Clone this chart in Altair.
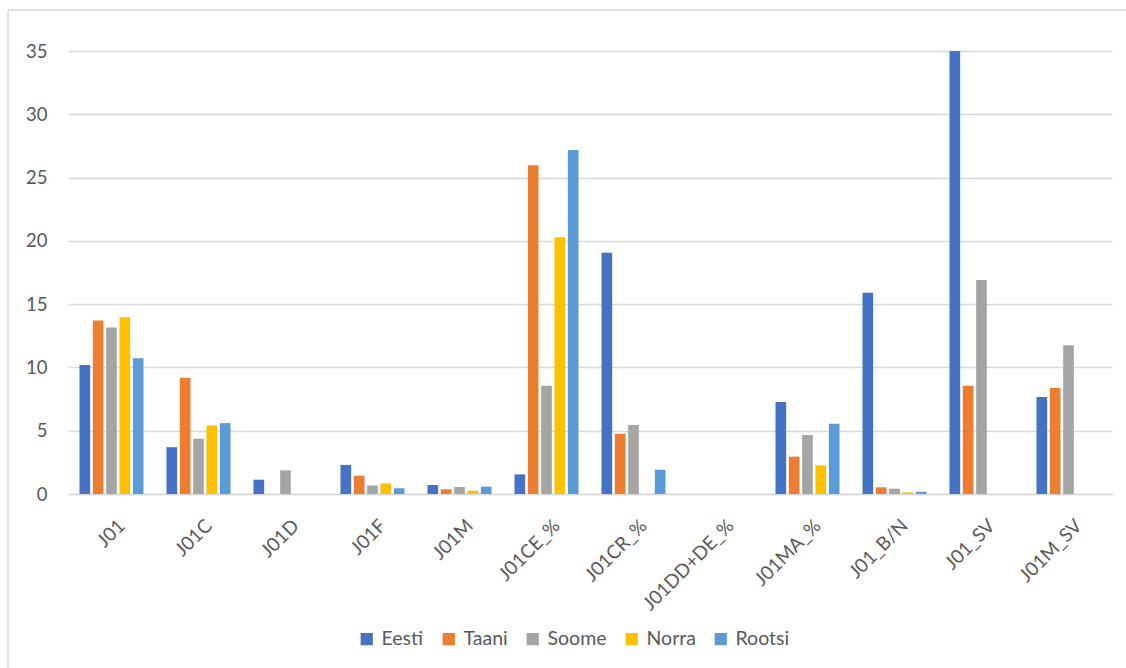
import altair as alt
import pandas as pd

categories = ["J01", "J01C", "J01D", "J01F", "J01M", "J01CE_%", "J01CR_%",
              "J01DD+DE_%", "J01MA_%", "J01_B/N", "J01_SV", "J01M_SV"]
series = ["Eesti", "Taani", "Soome", "Norra", "Rootsi"]
colors = ["#4472C4", "#ED7D31", "#A5A5A5", "#FFC000", "#5B9BD5"]

eesti  = [10.2, 3.7, 1.13, 2.3, 0.71, 1.55, 19.07, 0.0, 7.26, 15.9, 35.0, 7.66]
taani  = [13.7, 9.18, None, 1.45, 0.37, 25.97, 4.76, 0.0, 2.95, 0.53, 8.55, 8.37]
soome  = [13.15, 4.36, 1.87, 0.68, 0.55, 8.55, 5.45, 0.0, 4.66, 0.42, 16.9, 11.76]
norra  = [13.97, 5.42, None, 0.84, 0.26, 20.28, 0.0, 0.0, 2.26, 0.13, None, None]
rootsi = [10.73, 5.6, None, 0.45, 0.58, 27.18, 1.92, 0.0, 5.55, 0.18, None, None]

rows = []
for name, vals in zip(series, [eesti, taani, soome, norra, rootsi]):
    for cat, v in zip(categories, vals):
        if v is not None:
            rows.append({"category": cat, "series": name, "value": v})
df = pd.DataFrame(rows)

font = "Lato"
text_color = "#595959"
grid_color = "#D9D9D9"

bars = alt.Chart(df).mark_bar().encode(
    x=alt.X("category:N", sort=categories, title=None,
            scale=alt.Scale(paddingInner=0.264, paddingOuter=0.132),
            axis=alt.Axis(labelAngle=-45, labelPadding=22, labelOffset=4,
                          ticks=False,
                          domainColor=grid_color, domainWidth=1.5,
                          labelFontSize=19, labelColor=text_color,
                          labelFont=font)),
    xOffset=alt.XOffset("series:N", sort=series,
                        scale=alt.Scale(paddingInner=0.2, paddingOuter=0)),
    y=alt.Y("value:Q", title=None,
            scale=alt.Scale(domain=[0, 35], nice=False),
            axis=alt.Axis(values=[0, 5, 10, 15, 20, 25, 30, 35], ticks=False,
                          domain=False, gridColor=grid_color, gridWidth=1.5,
                          labelPadding=21, labelFontSize=18.5,
                          labelColor=text_color, labelFont=font)),
    color=alt.Color("series:N", sort=series,
                    scale=alt.Scale(domain=series, range=colors),
                    legend=alt.Legend(title=None, orient="none",
                                      direction="horizontal", columns=5,
                                      legendX=289, legendY=578,
                                      symbolType="square", symbolSize=150,
                                      symbolStrokeWidth=0,
                                      labelFontSize=19.5, labelColor=text_color,
                                      labelFont=font, labelOffset=5,
                                      columnPadding=15)),
)

# thin frame around the chart area
frame_data = alt.Data(values=[{}])
frame_left = alt.Chart(frame_data).mark_rule(color=grid_color, strokeWidth=1.5).encode(
    x=alt.value(-60), y=alt.value(-41), y2=alt.value(700))
frame_top = alt.Chart(frame_data).mark_rule(color=grid_color, strokeWidth=1.5).encode(
    x=alt.value(-60), x2=alt.value(1100), y=alt.value(-41))

chart = alt.layer(frame_left, frame_top, bars).properties(
    width=1044, height=443,
    autosize=alt.AutoSizeParams(type="none"),
    padding={"left": 68, "top": 51, "right": 14, "bottom": 174},
    background="white",
).configure_view(stroke=None)

chart.save("out.html", embed_options={"renderer": "svg", "actions": False})
